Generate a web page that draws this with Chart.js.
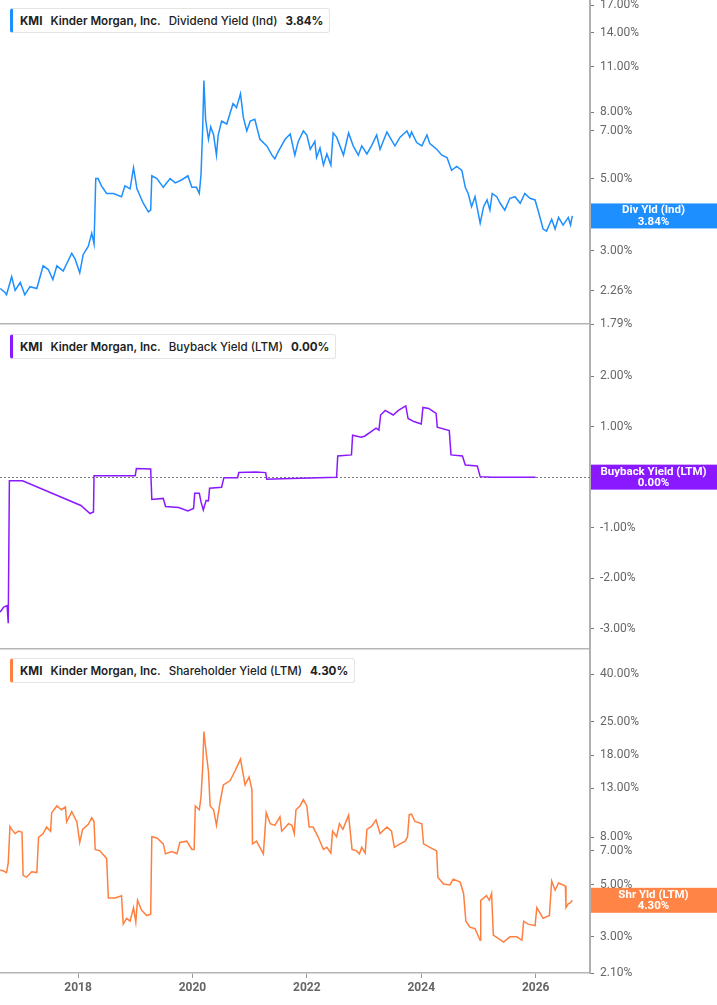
<!DOCTYPE html>
<html><head><meta charset="utf-8">
<script src="https://cdn.jsdelivr.net/npm/chart.js@4"></script>
<style>
body{margin:0;background:#fff;width:717px;height:1005px;overflow:hidden;position:relative;font-family:Inter,"Noto Sans",sans-serif;}
canvas{position:absolute;left:0;}
.legend{position:absolute;left:10px;height:25px;box-sizing:border-box;background:#fff;border:1px solid #e4e4e4;border-left:3px solid;border-radius:3px;display:flex;align-items:center;padding:0 6px 0 7px;font-size:11.6px;color:#222;white-space:nowrap;z-index:5;}
.legend span{margin-right:8px}
.legend span:last-child{margin-right:0}
</style></head>
<body>
<canvas id="c1" width="717" height="352" style="top:-14px"></canvas>
<canvas id="c2" width="717" height="353" style="top:310px"></canvas>
<canvas id="c3" width="717" height="370" style="top:635px"></canvas>
<div class="legend" style="top:8px;border-left-color:#1e8fff"><span style="font-weight:700">KMI</span><span style="font-weight:600">Kinder Morgan, Inc.</span><span style="font-weight:500">Dividend Yield (Ind)</span><span style="font-weight:700">3.84%</span></div>
<div class="legend" style="top:334px;border-left-color:#8a19ff"><span style="font-weight:700">KMI</span><span style="font-weight:600">Kinder Morgan, Inc.</span><span style="font-weight:500">Buyback Yield (LTM)</span><span style="font-weight:700">0.00%</span></div>
<div class="legend" style="top:658px;border-left-color:#ff7f3f"><span style="font-weight:700">KMI</span><span style="font-weight:600">Kinder Morgan, Inc.</span><span style="font-weight:500">Shareholder Yield (LTM)</span><span style="font-weight:700">4.30%</span></div>
<script>
// ---- data (decimal years, percent values) ----
const xTickYears = [2018, 2020, 2022, 2024, 2026];
const divTicks = [1.79, 2.26, 3, 5, 7, 8, 11, 14, 17];
const buyTicks = [-3, -2, -1, 0, 1, 2];
const shrTicks = [2.1, 3, 5, 7, 8, 13, 18, 25, 40];

const divDates = [2016.64,2016.72,2016.75,2016.84,2016.90,2016.99,2017.07,2017.16,2017.28,2017.39,2017.48,2017.56,2017.63,2017.74,2017.89,2017.95,2018.03,2018.09,2018.18,2018.24,2018.28,2018.31,2018.35,2018.41,2018.50,2018.62,2018.76,2018.82,2018.91,2018.97,2019.03,2019.14,2019.23,2019.27,2019.29,2019.38,2019.49,2019.61,2019.70,2019.81,2019.92,2019.99,2020.07,2020.12,2020.15,2020.18,2020.20,2020.23,2020.28,2020.32,2020.37,2020.42,2020.45,2020.51,2020.60,2020.71,2020.77,2020.84,2020.89,2020.95,2021.01,2021.09,2021.18,2021.30,2021.39,2021.44,2021.50,2021.62,2021.71,2021.79,2021.85,2021.94,2022.00,2022.06,2022.14,2022.17,2022.23,2022.29,2022.35,2022.42,2022.46,2022.52,2022.64,2022.73,2022.81,2022.90,2022.96,2023.05,2023.13,2023.22,2023.28,2023.40,2023.45,2023.54,2023.63,2023.75,2023.80,2023.83,2023.92,2024.01,2024.10,2024.15,2024.27,2024.36,2024.45,2024.53,2024.62,2024.71,2024.77,2024.82,2024.88,2024.94,2025.03,2025.09,2025.15,2025.20,2025.24,2025.32,2025.38,2025.46,2025.55,2025.64,2025.73,2025.81,2025.90,2025.99,2026.05,2026.13,2026.19,2026.28,2026.34,2026.40,2026.48,2026.57,2026.61,2026.64];
const divVals = [2.30,2.24,2.20,2.50,2.27,2.40,2.20,2.33,2.30,2.70,2.63,2.45,2.70,2.60,2.95,2.83,2.57,2.92,3.10,3.40,3.15,5.00,5.00,4.75,4.50,4.50,4.40,4.75,4.65,5.40,4.65,4.20,3.95,4.00,5.10,5.00,4.70,5.00,4.85,4.95,5.10,4.70,4.70,4.50,5.15,7.20,10.0,7.60,6.60,7.20,6.80,5.90,6.80,7.50,7.35,8.50,8.25,9.10,7.70,7.00,7.50,7.60,6.60,6.30,5.90,5.75,6.05,6.60,6.85,5.90,6.50,7.00,6.80,6.15,6.50,5.80,6.20,5.50,5.95,5.50,6.90,6.70,5.90,6.90,6.30,5.90,6.30,5.95,6.30,6.80,6.15,6.95,6.70,6.30,6.70,7.00,6.70,6.95,6.45,6.30,6.80,6.40,6.15,5.90,5.80,5.30,5.45,5.30,4.70,4.50,4.10,4.40,3.65,4.10,4.30,4.00,4.50,4.40,4.20,4.00,4.35,4.40,4.20,4.50,4.35,4.30,3.95,3.50,3.45,3.75,3.50,3.80,3.60,3.80,3.60,3.84];

const buyDates = [2016.64,2016.70,2016.76,2016.78,2016.80,2017.03,2018.05,2018.21,2018.27,2018.28,2019.00,2019.02,2019.27,2019.29,2019.49,2019.53,2019.76,2019.92,2020.02,2020.04,2020.12,2020.15,2020.19,2020.24,2020.28,2020.30,2020.51,2020.55,2020.79,2020.81,2021.11,2021.28,2021.30,2021.57,2022.52,2022.54,2022.78,2022.80,2022.95,2023.01,2023.21,2023.26,2023.29,2023.37,2023.51,2023.60,2023.73,2023.77,2023.87,2024.00,2024.03,2024.13,2024.26,2024.28,2024.49,2024.52,2024.72,2024.77,2024.98,2025.03,2025.25,2026.00];
const buyVals = [-2.67,-2.57,-2.54,-2.89,-0.07,-0.07,-0.56,-0.72,-0.69,0.03,0.03,0.17,0.16,-0.44,-0.42,-0.58,-0.60,-0.67,-0.62,-0.32,-0.32,-0.49,-0.65,-0.46,-0.47,-0.22,-0.20,-0.01,-0.01,0.09,0.10,0.09,-0.04,-0.03,0.00,0.42,0.44,0.83,0.79,0.81,0.97,0.93,1.23,1.32,1.23,1.32,1.41,1.16,1.10,1.05,1.38,1.36,1.26,0.99,0.92,0.44,0.42,0.24,0.22,0.01,0.00,0.00];

const shrDates = [2016.64,2016.69,2016.75,2016.78,2016.81,2016.84,2016.90,2016.96,2017.02,2017.04,2017.10,2017.19,2017.28,2017.31,2017.39,2017.45,2017.52,2017.54,2017.63,2017.71,2017.78,2017.80,2017.89,2017.98,2018.03,2018.08,2018.18,2018.24,2018.28,2018.30,2018.38,2018.50,2018.53,2018.65,2018.76,2018.79,2018.85,2018.91,2018.97,2019.01,2019.04,2019.11,2019.20,2019.27,2019.29,2019.38,2019.49,2019.53,2019.64,2019.73,2019.78,2019.90,2019.99,2020.03,2020.05,2020.12,2020.15,2020.18,2020.20,2020.24,2020.28,2020.31,2020.37,2020.42,2020.48,2020.54,2020.66,2020.74,2020.84,2020.92,2020.99,2021.04,2021.05,2021.12,2021.24,2021.29,2021.36,2021.44,2021.53,2021.56,2021.68,2021.74,2021.78,2021.81,2021.88,2021.94,2022.00,2022.04,2022.11,2022.20,2022.29,2022.35,2022.42,2022.45,2022.52,2022.57,2022.63,2022.73,2022.79,2022.87,2022.92,2022.96,2023.02,2023.05,2023.13,2023.21,2023.28,2023.40,2023.48,2023.53,2023.63,2023.72,2023.76,2023.79,2023.83,2023.89,2024.01,2024.04,2024.15,2024.27,2024.29,2024.39,2024.50,2024.56,2024.68,2024.74,2024.78,2024.85,2024.94,2025.03,2025.04,2025.14,2025.19,2025.23,2025.26,2025.35,2025.44,2025.55,2025.67,2025.76,2025.79,2025.87,2025.99,2026.02,2026.13,2026.24,2026.28,2026.34,2026.40,2026.52,2026.53,2026.57,2026.61,2026.64];
const shrVals = [5.80,5.75,5.65,6.20,8.90,8.65,8.30,8.50,8.40,5.50,5.40,5.70,5.65,8.00,8.30,8.85,8.50,10.2,10.9,10.5,10.8,9.30,10.3,9.30,7.60,8.65,9.10,9.70,9.35,7.10,7.00,6.50,4.40,4.40,4.50,3.40,3.60,3.50,4.00,3.47,4.30,3.90,3.70,3.75,8.05,7.95,7.50,6.80,6.95,6.80,7.60,7.70,7.10,7.10,10.9,10.5,11.9,16.1,22.7,18.5,15.3,10.9,10.5,9.00,11.2,13.4,14.0,15.3,17.3,13.4,14.5,12.8,7.50,7.70,6.80,10.2,9.15,9.00,9.80,8.50,9.15,9.00,8.30,10.5,10.9,11.6,10.9,8.85,8.85,8.00,7.10,7.25,6.85,8.50,8.05,9.15,8.65,9.95,7.10,7.00,6.80,7.25,6.85,8.65,8.90,9.50,8.30,8.85,8.50,7.25,7.50,7.70,8.05,10.0,10.05,9.35,9.15,7.50,7.25,7.00,5.40,5.05,5.00,5.30,5.15,4.60,3.50,3.30,3.25,2.90,4.30,4.50,4.30,4.60,3.05,2.95,2.85,3.00,3.00,2.90,3.50,3.40,3.35,4.00,3.60,3.70,5.20,4.75,5.10,4.95,4.00,4.15,4.20,4.30];

// ---- plugins ----
const valueBox = {
  id: 'valueBox',
  afterDraw(chart, args, o) {
    const ctx = chart.ctx, ca = chart.chartArea;
    const y = chart.scales.y.getPixelForValue(o.value);
    ctx.save();
    ctx.fillStyle = o.color;
    ctx.fillRect(ca.right + 1, y - 12.5, chart.width - ca.right - 1, 25);
    ctx.fillStyle = '#fff';
    ctx.font = '700 11.5px Roboto, sans-serif';
    ctx.textAlign = 'center';
    ctx.textBaseline = 'middle';
    const cx = (ca.right + chart.width) / 2;
    ctx.fillText(o.line1, cx, y - 5.5);
    ctx.fillText(o.line2, cx, y + 6);
    ctx.restore();
  }
};
const zeroLine = {
  id: 'zeroLine',
  beforeDatasetsDraw(chart, args, o) {
    if (!o.on) return;
    const ctx = chart.ctx, ca = chart.chartArea;
    const y = Math.round(chart.scales.y.getPixelForValue(0)) + 0.5;
    ctx.save();
    ctx.strokeStyle = '#7a7a7a';
    ctx.lineWidth = 1;
    ctx.setLineDash([2, 2]);
    ctx.beginPath(); ctx.moveTo(ca.left, y); ctx.lineTo(ca.right, y); ctx.stroke();
    ctx.restore();
  }
};

function makeChart(id, xs, ys, color, yType, yMin, yMax, yTicks, showX, padTop, padBottom, box, zero) {
  return new Chart(document.getElementById(id), {
    type: 'line',
    data: { datasets: [{ data: xs.map((d, i) => ({ x: d, y: ys[i] })), borderColor: color, borderWidth: 1.5, pointRadius: 0, tension: 0, fill: false }] },
    options: {
      responsive: false, animation: false,
      layout: { padding: { top: padTop, bottom: padBottom, left: 0, right: 0 } },
      plugins: { legend: { display: false }, tooltip: { enabled: false }, valueBox: box, zeroLine: { on: zero } },
      scales: {
        x: {
          type: 'linear', min: 2016.636, max: 2026.95,
          afterBuildTicks: s => { s.ticks = xTickYears.map(v => ({ value: v })); },
          afterFit: s => { s.height = showX ? 32 : 0; },
          grid: { drawOnChartArea: false, drawTicks: showX, tickLength: 5, tickColor: '#999' },
          border: { display: true, color: '#b5b5b5', width: 1.5 },
          ticks: { display: showX, callback: v => String(v), color: '#666', font: { family: 'Roboto', size: 12, weight: 'bold' }, padding: 3, maxRotation: 0, autoSkip: false }
        },
        y: {
          type: yType, position: 'right', min: yMin, max: yMax,
          afterBuildTicks: s => { s.ticks = yTicks.map(v => ({ value: v })); },
          afterFit: s => { s.width = 127; },
          grid: { drawOnChartArea: false, drawTicks: true, tickLength: 4, tickColor: '#777' },
          border: { display: true, color: '#b0b0b0', width: 2 },
          ticks: { callback: v => Number(v).toFixed(2) + '%', color: '#666', font: { family: 'Roboto', size: 12 }, padding: 6, autoSkip: false }
        }
      }
    },
    plugins: [valueBox, zeroLine]
  });
}

makeChart('c1', divDates, divVals, '#1e8fff', 'logarithmic', 1.79, 17.65, divTicks, false, 14, 14,
  { value: 3.84, color: '#1e8fff', line1: 'Div Yld (Ind)', line2: '3.84%' }, false);
makeChart('c2', buyDates, buyVals, '#8a19ff', 'linear', -3.4, 3.03, buyTicks, false, 14, 14,
  { value: 0, color: '#8a19ff', line1: 'Buyback Yield (LTM)', line2: '0.00%' }, true);
makeChart('c3', shrDates, shrVals, '#ff7f3f', 'logarithmic', 2.1, 51.2, shrTicks, true, 14, 0,
  { value: 4.30, color: '#ff8445', line1: 'Shr Yld (LTM)', line2: '4.30%' }, false);
</script>
</body></html>
